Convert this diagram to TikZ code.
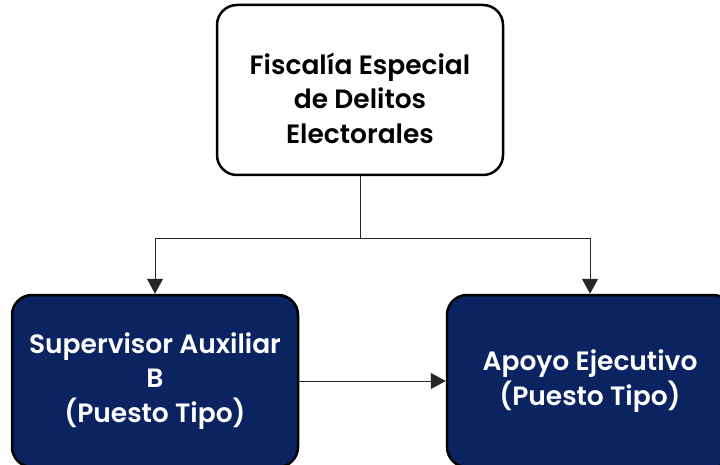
\documentclass[tikz,border=0pt]{standalone}
\usepackage{fontspec}
\setmainfont{Poppins}[BoldFont={Poppins SemiBold}]
\usetikzlibrary{arrows.meta}
\definecolor{navy}{HTML}{0B2461}
\begin{document}
\begin{tikzpicture}[x=1pt,y=-1pt,>={Triangle[width=16pt,length=15pt]},
    unittext/.style={align=center,font=\fontsize{26.5}{34.5}\selectfont\bfseries},
    unitbox/.style={rectangle,rounded corners=20pt,draw,line width=2.5pt,
      minimum width=286pt,minimum height=172pt,unittext}]
    \useasboundingbox (0,0) rectangle (720,465);
    % Unit nodes
    \node at (360,90) [unitbox,fill=white,minimum height=170pt,
      label={[unittext,yshift=-8pt]center:Fiscalía Especial\\de Delitos\\Electorales}] (fisc) {};
    \node at (155,381) [unitbox,fill=navy,text=white] (sup) {Supervisor Auxiliar\\B\\(Puesto Tipo)};
    \node at (590,381) [unitbox,fill=navy,text=white] (apoyo) {Apoyo Ejecutivo\\(Puesto Tipo)};

    % Connectors
    \coordinate (split) at (360,238);
    \draw[line width=1pt,black!85] (fisc) -- (split);
    \draw[->,line width=1pt,black!85] (split) -| (sup);
    \draw[->,line width=1pt,black!85] (split) -| (apoyo);
    \draw[->,line width=1pt,black!85] (sup) -- (apoyo);
\end{tikzpicture}
\end{document}
